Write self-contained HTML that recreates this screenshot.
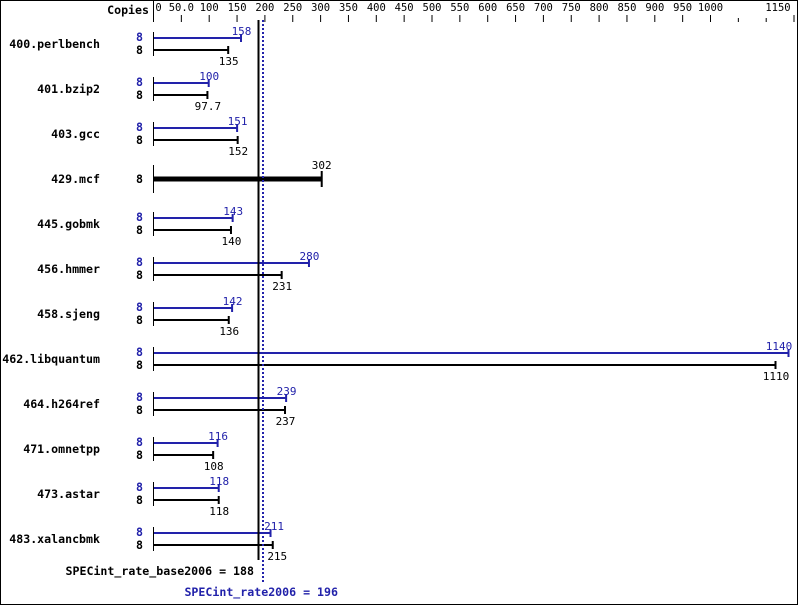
<!DOCTYPE html>
<html><head><meta charset="utf-8"><style>
html,body{margin:0;padding:0;background:#fff;}
svg{display:block;}
text{font-family:"DejaVu Sans Mono","Liberation Mono",monospace;}
.n{font-size:11.6px;font-weight:bold;text-anchor:end;}
.v{font-size:11px;text-anchor:middle;}
.t{font-size:10.5px;text-anchor:middle;}
</style></head><body>
<svg width="799" height="606" xmlns="http://www.w3.org/2000/svg">
<rect x="0.5" y="0.5" width="797" height="604" fill="none" stroke="#000"/>
<text x="149" y="14" class="n">Copies</text>
<line x1="153.5" y1="0" x2="153.5" y2="22" stroke="#000"/>
<g id="ax"></g>
<g id="bars"></g>
<line x1="258.5" y1="20" x2="258.5" y2="560" stroke="#000" stroke-width="2"/>
<line x1="263" y1="20" x2="263" y2="582" stroke="#2222aa" stroke-width="2" stroke-dasharray="2,2"/>
<text x="254" y="575" class="n" fill="#000">SPECint_rate_base2006 = 188</text>
<text x="338" y="596" class="n" fill="#2222aa">SPECint_rate2006 = 196</text>
<script>
var s=0.557,o=153.5,NS="http://www.w3.org/2000/svg";
function X(v){if(v==1110)return 776;if(v==1140)return 789;return o+v*s;}
function el(p,t,a,tx){var e=document.createElementNS(NS,t);for(var k in a)e.setAttribute(k,a[k]);if(tx!=null)e.textContent=tx;p.appendChild(e);return e;}
var ax=document.getElementById('ax');
var labs=[0,"50.0",100,150,200,250,300,350,400,450,500,550,600,650,700,750,800,850,900,950,1000];
labs.forEach(function(l,i){var v=i*50,x=o+v*s;if(i>0)el(ax,'line',{x1:x,y1:15,x2:x,y2:22,stroke:'#000'});
el(ax,'text',{x:i==0?x+5:x,y:11,'class':'t'},String(l));});
[1050,1100].forEach(function(v){var x=o+v*s;el(ax,'line',{x1:x,y1:18,x2:x,y2:22,stroke:'#000'});});
el(ax,'line',{x1:794,y1:15,x2:794,y2:22,stroke:'#000'});el(ax,'text',{x:778,y:11,'class':'t'},"1150");
var d=[["400.perlbench",158,135,"158","135"],["401.bzip2",100,97.7,"100","97.7"],["403.gcc",151,152,"151","152"],["429.mcf",null,302,"","302"],["445.gobmk",143,140,"143","140"],["456.hmmer",280,231,"280","231"],["458.sjeng",142,136,"142","136"],["462.libquantum",1140,1110,"1140","1110"],["464.h264ref",239,237,"239","237"],["471.omnetpp",116,108,"116","108"],["473.astar",118,118,"118","118"],["483.xalancbmk",211,215,"211","215"]];
var g=document.getElementById('bars'),B="#2222aa";
d.forEach(function(r,i){var c=44+45*i;
el(g,'text',{x:100,y:c+4,'class':'n'},r[0]);
if(r[1]==null){var x=X(r[2]);
el(g,'line',{x1:153.5,y1:c-14,x2:153.5,y2:c+14,stroke:'#000'});
el(g,'text',{x:143,y:c+4,'class':'n'},"8");
el(g,'rect',{x:154,y:c-2.5,width:x-154,height:5,fill:'#000'});
el(g,'rect',{x:x-1,y:c-8,width:2,height:16,fill:'#000'});
el(g,'text',{x:x,y:c-10,'class':'v'},r[4]);return;}
var yb=c-6,yk=c+6;
el(g,'line',{x1:153.5,y1:yb-6,x2:153.5,y2:yk+6,stroke:'#000'});
el(g,'text',{x:143,y:yb+3,'class':'n',fill:B},"8");
el(g,'text',{x:143,y:yk+4,'class':'n'},"8");
var xb=X(r[1]),xk=X(r[2]);
el(g,'rect',{x:154,y:yb-1,width:xb-154,height:2,fill:B});
el(g,'rect',{x:xb-1.5,y:yb-4,width:2,height:8,fill:B});
el(g,'rect',{x:154,y:yk-1,width:xk-154,height:2,fill:'#000'});
el(g,'rect',{x:xk-1.5,y:yk-4,width:2,height:8,fill:'#000'});
var bx=xb,kx=xk;if(r[1]==1140)bx=xb-10;if(r[1]==211){bx=xb+3;kx=xk+4;}
el(g,'text',{x:bx,y:yb-3,'class':'v',fill:B},r[3]);
el(g,'text',{x:kx,y:yk+15,'class':'v'},r[4]);
});
</script>
</svg>
</body></html>
